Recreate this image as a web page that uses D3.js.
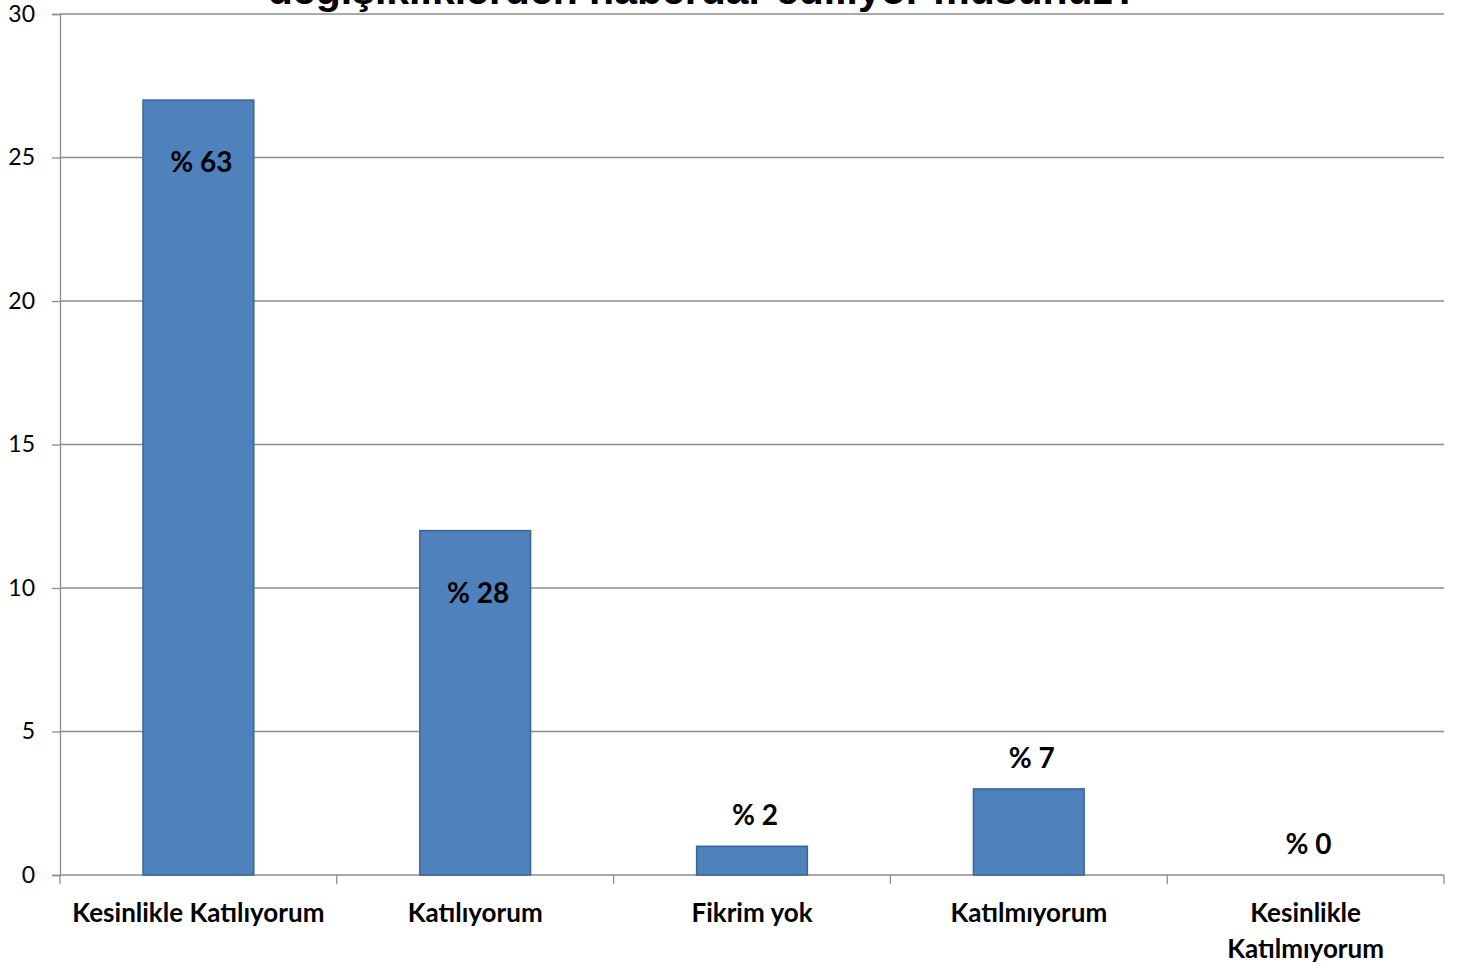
<!DOCTYPE html>
<html>
<head>
<meta charset="utf-8">
<script src="https://cdn.jsdelivr.net/npm/d3@7"></script>
<style>
  body { margin: 0; background: #fff; }
  svg text { font-family: Lato, "Open Sans", sans-serif; }
</style>
</head>
<body>
<div id="chart"></div>
<script>
const titleLine = "değişikliklerden haberdar ediliyor musunuz?";
const categories = [["Kesinlikle Katılıyorum"], ["Katılıyorum"], ["Fikrim yok"], ["Katılmıyorum"], ["Kesinlikle", "Katılmıyorum"]];
const counts = [27, 12, 1, 3, 0];
const percentLabels = ["% 63", "% 28", "% 2", "% 7", "% 0"];
const yTicks = [0, 5, 10, 15, 20, 25, 30];

const W = 1464, H = 969;
const margin = { top: 14, right: 20, bottom: 94, left: 60 };
const width = W - margin.left - margin.right;
const height = H - margin.top - margin.bottom;

const svg = d3.select("#chart").append("svg")
  .attr("width", W)
  .attr("height", H);

// title (only the lower line is visible in the source)
svg.append("text")
  .attr("x", 703)
  .attr("y", 4)
  .attr("text-anchor", "middle")
  .style("font-family", "'Liberation Sans', Arial, sans-serif")
  .style("font-weight", "bold")
  .style("font-size", "41px")
  .text(titleLine);

const g = svg.append("g").attr("transform", `translate(${margin.left},${margin.top})`);

const x = d3.scaleBand().domain(d3.range(categories.length)).range([0, width]).paddingInner(0).paddingOuter(0);
const y = d3.scaleLinear().domain([0, 30]).range([height, 0]);

// gridlines
g.append("g")
  .selectAll("line")
  .data(yTicks.filter(d => d > 0))
  .join("line")
  .attr("x1", 0).attr("x2", width)
  .attr("y1", d => y(d)).attr("y2", d => y(d))
  .attr("stroke", "#8c8c8c").attr("stroke-width", 1.3);

// y axis
const yAxis = g.append("g")
  .call(d3.axisLeft(y).tickValues(yTicks).tickSize(8).tickPadding(17));
yAxis.select(".domain").attr("stroke", "#8c8c8c").attr("stroke-width", 1.3);
yAxis.selectAll(".tick line").attr("stroke", "#8c8c8c").attr("stroke-width", 1.3);
yAxis.selectAll(".tick text")
  .style("font-family", "Lato, sans-serif")
  .style("font-size", "23px")
  .attr("fill", "#000");

// x axis with ticks at category boundaries
const xAxisG = g.append("g").attr("transform", `translate(0,${height})`);
xAxisG.append("line")
  .attr("x1", 0).attr("x2", width)
  .attr("stroke", "#8c8c8c").attr("stroke-width", 1.3);
xAxisG.selectAll("line.tk")
  .data(d3.range(categories.length + 1))
  .join("line")
  .attr("class", "tk")
  .attr("x1", i => i * x.step()).attr("x2", i => i * x.step())
  .attr("y1", 0).attr("y2", 9)
  .attr("stroke", "#8c8c8c").attr("stroke-width", 1.3);

xAxisG.selectAll("text.cat")
  .data(categories)
  .join("text")
  .attr("class", "cat")
  .attr("text-anchor", "middle")
  .attr("x", (d, i) => x(i) + x.bandwidth() / 2)
  .attr("y", 47)
  .style("font-weight", "bold")
  .style("font-size", "26px")
  .selectAll("tspan")
  .data(d => d)
  .join("tspan")
  .attr("x", function() { return this.parentNode.getAttribute("x"); })
  .attr("dy", (d, i) => i === 0 ? 0 : 36)
  .text(d => d);

// bars
const barW = x.bandwidth() * 0.4;
g.selectAll("rect.bar")
  .data(counts)
  .join("rect")
  .attr("class", "bar")
  .attr("x", (d, i) => x(i) + (x.bandwidth() - barW) / 2)
  .attr("y", d => y(d))
  .attr("width", barW)
  .attr("height", d => height - y(d))
  .attr("fill", "#4f81bd")
  .attr("stroke", "#3b6496")
  .attr("stroke-width", d => d > 0 ? 1.5 : 0);

// data labels: inside end for tall bars, above for short ones
g.selectAll("text.lbl")
  .data(counts)
  .join("text")
  .attr("class", "lbl")
  .attr("text-anchor", "middle")
  .attr("x", (d, i) => x(i) + x.bandwidth() / 2 + 3)
  .attr("y", d => d >= 10 ? y(d) + 72 : y(d) - 21)
  .style("font-weight", "bold")
  .style("font-size", "28px")
  .text((d, i) => percentLabels[i]);
</script>
</body>
</html>
